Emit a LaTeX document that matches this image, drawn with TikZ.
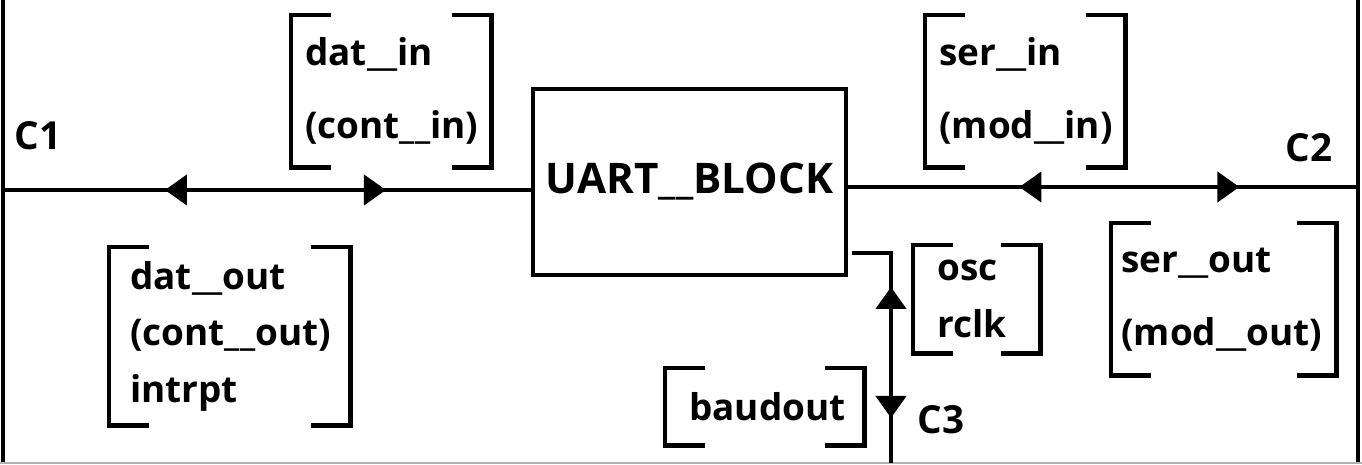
\documentclass[tikz,border=0pt]{standalone}
\usepackage{fontspec}
\setmainfont{Open Sans}
\usetikzlibrary{arrows.meta, decorations.markings, positioning}

\tikzset{
    >={Triangle[length=0.44cm, width=0.6cm]},
    sig/.style={line width=2.5pt},
    brk/.style={line width=2.8pt},
    sigbox/.style={inner ysep=0pt, anchor=north west, align=left,
        font=\bfseries\fontsize{21}{41.5}\selectfont},
    clab/.style={font=\bfseries\fontsize{22}{26}\selectfont},
    twotips/.style n args={2}{postaction={decorate}, decoration={markings,
        mark=at position #1 with {\arrowreversed{>}},
        mark=at position #2 with {\arrow{>}}}}
}

\begin{document}
\begin{tikzpicture}[x=0.02cm, y=-0.02cm]

    \useasboundingbox (0,0) rectangle (1362,465);

    % Frame
    \draw[sig] (3,0) -- (3,463);
    \draw[sig] (1358,0) -- (1358,463);
    \draw[gray!60, line width=0.8pt] (0,463) -- (1362,463);

    % UART block
    \node[draw, line width=2.8pt, minimum width=6.26cm, minimum height=3.72cm,
        font=\bfseries\fontsize{24}{29}\selectfont] (uart) at (689.5,182) {UART\_\_BLOCK};

    % Free ends
    \coordinate (c1w) at (3,190);
    \coordinate (c2e) at (1358,187);
    \coordinate (c3a) at (852,253);
    \coordinate (c3b) at (891,463);

    % Connectors
    \draw[sig, twotips={3.24cm}{7.66cm}] (c1w) -- (c1w -| uart.west);
    \draw[sig, twotips={3.42cm}{7.82cm}] (c2e -| uart.east) -- (c2e);
    \draw[sig, twotips={1.46cm}{4.08cm}] (c3a) -| (c3b);

    % Channel labels
    \node[clab] (c1lab) at (38,136) {C1};
    \node[clab] (c2lab) at (1309,148) {C2};
    \node[clab] (c3lab) at (941,420) {C3};

    % Signal groups
    \node[sigbox, inner xsep=0.28cm, text width=3.44cm, minimum height=3.04cm] (datin) at (291,15)
        {dat\_\_in\\(cont\_\_in)};
    \node[sigbox, inner xsep=0.42cm, text width=3.98cm, minimum height=3.56cm,
        font=\bfseries\fontsize{21}{32}\selectfont] (datout) at (109,247)
        {dat\_\_out\\(cont\_\_out)\\intrpt};
    \node[sigbox, inner xsep=0.28cm, text width=3.44cm, minimum height=3.04cm] (serin) at (925,15)
        {ser\_\_in\\(mod\_\_in)};
    \node[sigbox, inner xsep=0.2cm, text width=4.1cm, minimum height=3.04cm] (serout) at (1111,223)
        {ser\_\_out\\(mod\_\_out)};
    \node[sigbox, inner xsep=0.48cm, text width=1.58cm, minimum height=2.16cm,
        font=\bfseries\fontsize{21}{32.5}\selectfont] (osc) at (913,245)
        {osc\\rclk};
    \node[sigbox, inner xsep=0.48cm, text width=3.02cm, minimum height=1.54cm] (baud) at (665,368)
        {baudout};

    % Brackets
    \foreach \b in {datin, datout, serin, serout, osc, baud} {
        \draw[brk] ([xshift=0.8cm]\b.north west) -- (\b.north west) -- (\b.south west) -- ([xshift=0.8cm]\b.south west);
        \draw[brk] ([xshift=-0.8cm]\b.north east) -- (\b.north east) -- (\b.south east) -- ([xshift=-0.8cm]\b.south east);
    }

\end{tikzpicture}
\end{document}
